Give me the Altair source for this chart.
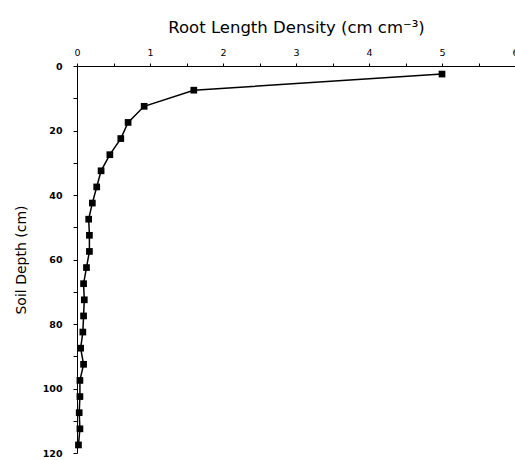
import altair as alt
import pandas as pd

depth = [2.5, 7.5, 12.5, 17.5, 22.5, 27.5, 32.5, 37.5, 42.5, 47.5, 52.5, 57.5,
         62.5, 67.5, 72.5, 77.5, 82.5, 87.5, 92.5, 97.5, 102.5, 107.5, 112.5, 117.5]
rld = [5.0, 1.6, 0.92, 0.70, 0.60, 0.45, 0.33, 0.27, 0.21, 0.16, 0.17, 0.17,
       0.13, 0.09, 0.10, 0.09, 0.08, 0.05, 0.09, 0.04, 0.04, 0.03, 0.04, 0.02]
x_ticks = [i * 0.5 for i in range(13)]
y_ticks = list(range(0, 130, 10))

df = pd.DataFrame({"depth": depth, "rld": rld})
FONT = "DejaVu Sans"

x = alt.X(
    "rld:Q",
    scale=alt.Scale(domain=[0, 6], nice=False, zero=False),
    axis=alt.Axis(
        orient="top", values=x_ticks,
        labelExpr="datum.value % 1 == 0 ? format(datum.value, 'd') : ''",
        title="Root Length Density (cm cm⁻³)",
        titleFont=FONT, titleFontSize=16.5, titleFontWeight="normal", titleColor="black",
        titlePadding=12,
        labelFont=FONT, labelFontSize=9.5, labelColor="black", labelPadding=6,
        tickSize=3, tickColor="black", domainColor="black", grid=False,
        labelOverlap=False, labelFlush=False,
    ),
)
y = alt.Y(
    "depth:Q",
    scale=alt.Scale(domain=[0, 120], reverse=True, nice=False, zero=False),
    axis=alt.Axis(
        values=y_ticks,
        labelExpr="datum.value % 20 == 0 ? format(datum.value, 'd') : ''",
        title="Soil Depth (cm)",
        titleFont=FONT, titleFontSize=14, titleFontWeight="normal", titleColor="black",
        titlePadding=14,
        labelFont=FONT, labelFontSize=9.5, labelFontWeight="bold", labelColor="black",
        labelPadding=11,
        tickSize=4, tickColor="black", domainColor="black", grid=False,
        labelOverlap=False, labelFlush=False,
    ),
)

line = alt.Chart(df).mark_line(color="black", strokeWidth=1.5).encode(x=x, y=y, order="depth:Q")
pts = alt.Chart(df).mark_point(shape="square", filled=True, color="black", size=45, opacity=1).encode(x=x, y=y)

chart = (line + pts).properties(
    width=438, height=387,
    autosize=alt.AutoSizeParams(type="none"),
    padding={"left": 77, "top": 66, "right": 0, "bottom": 7},
    background="white",
).configure_view(stroke=None)

chart.save("out.html", embed_options={"renderer": "svg", "actions": False})
